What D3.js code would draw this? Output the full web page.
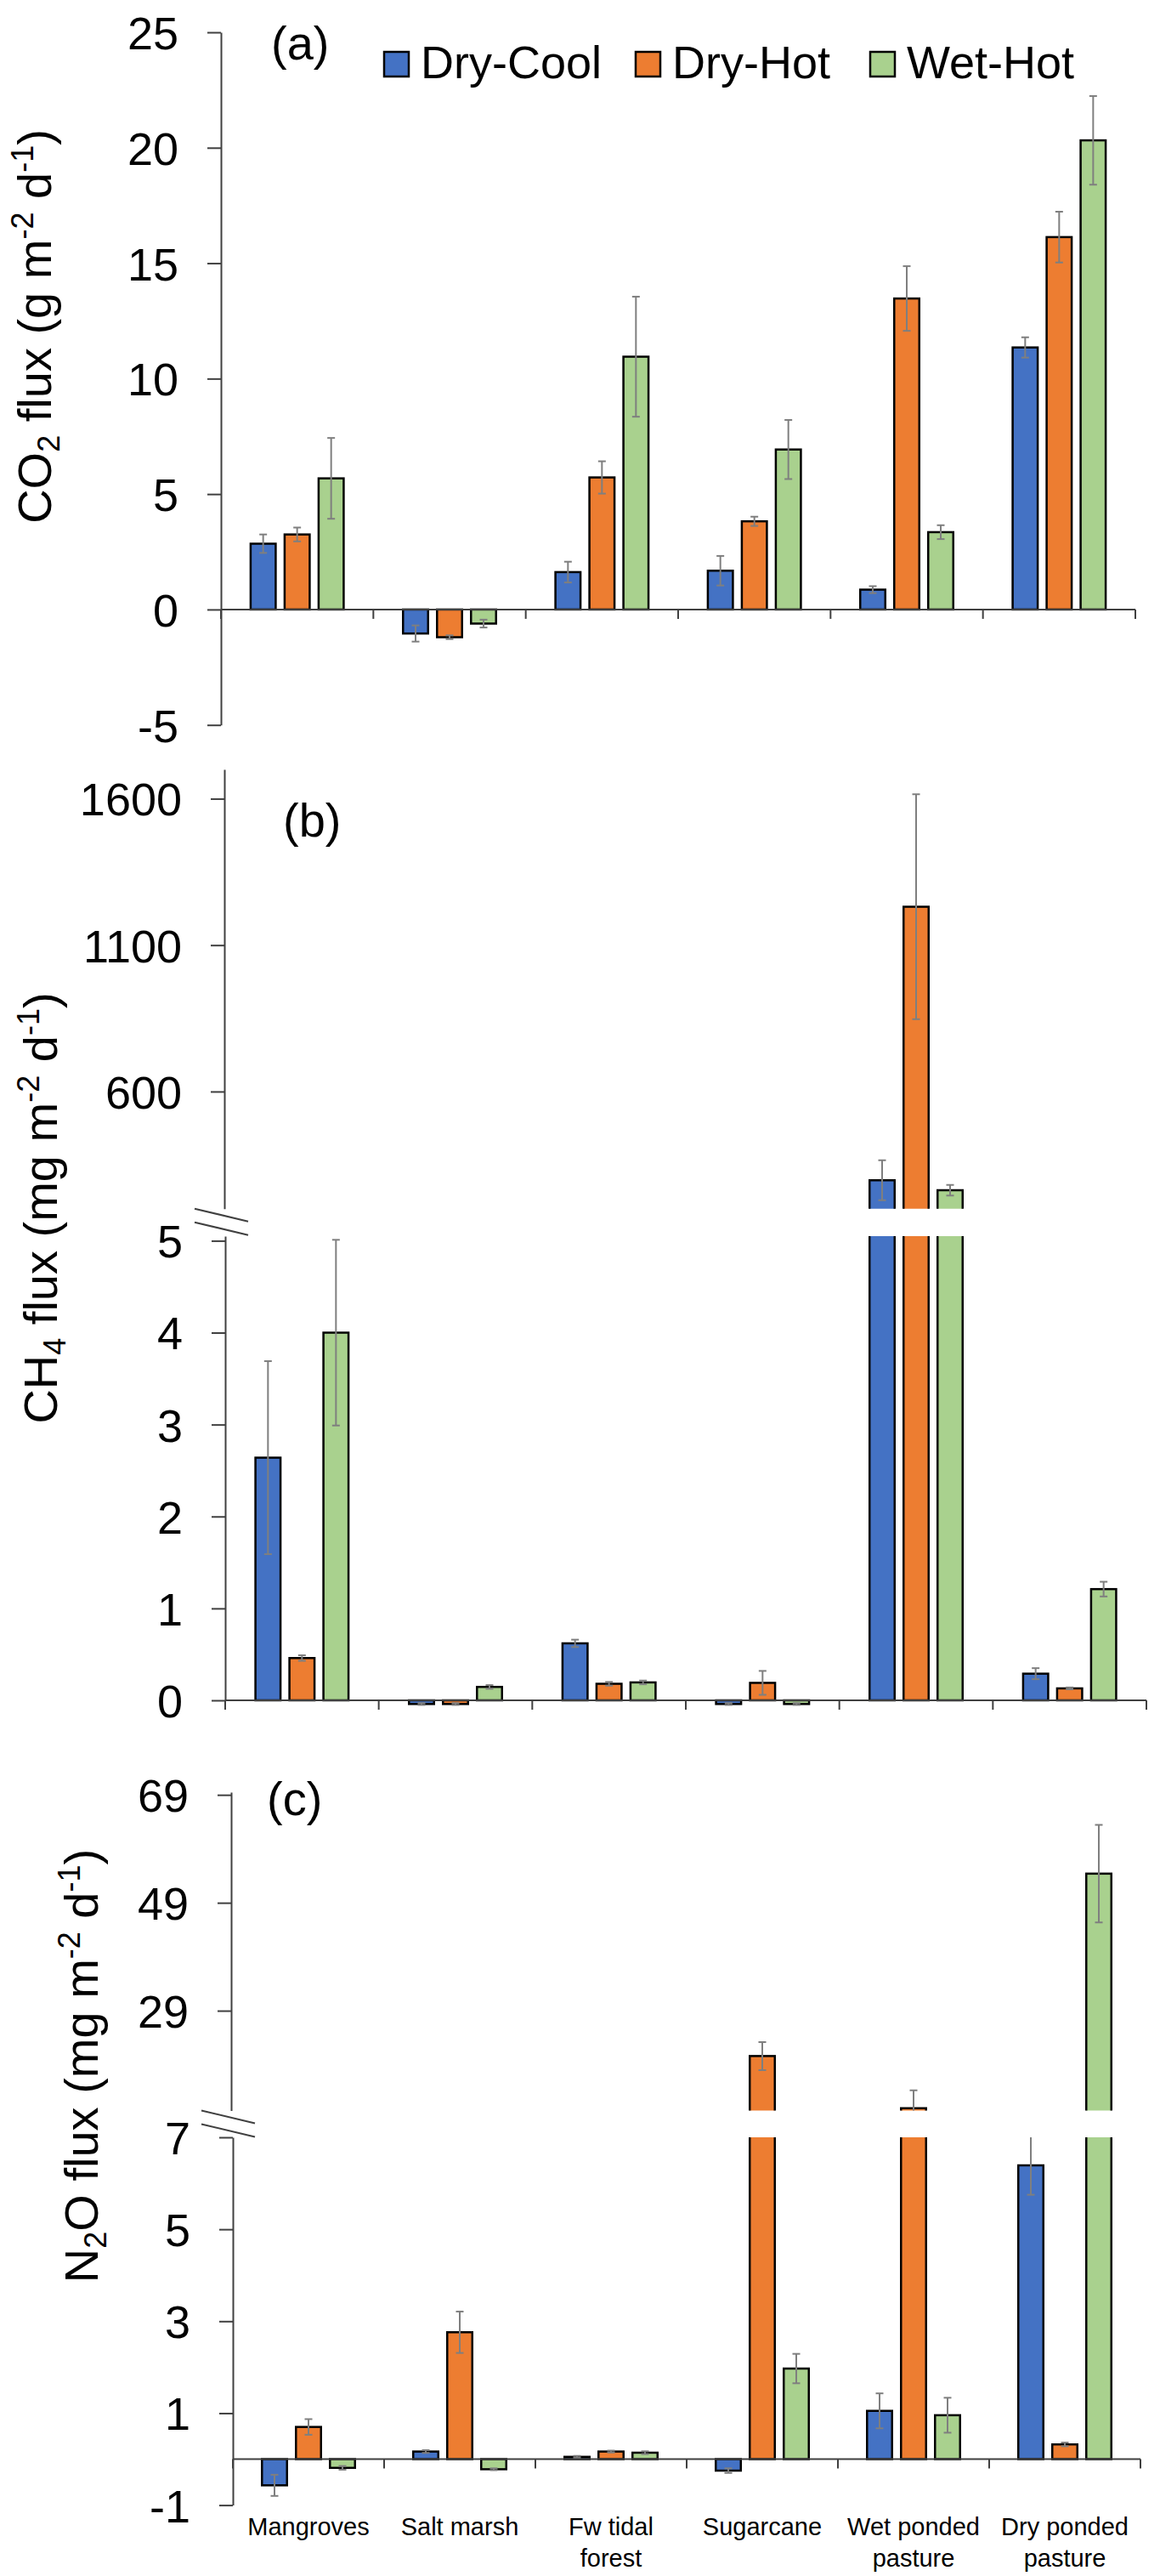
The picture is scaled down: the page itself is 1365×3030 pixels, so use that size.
<!DOCTYPE html>
<html>
<head>
<meta charset="utf-8">
<script src="https://cdn.jsdelivr.net/npm/d3@7"></script>
<style>
  body { margin: 0; background: #fff; }
  text { font-family: "Liberation Sans", Arial, sans-serif; fill: #000; }
</style>
</head>
<body>
<svg id="chart" width="1365" height="3030"></svg>
<script>
// categories, line breaks as in the original axis labels
const categories = ["Mangroves", "Salt marsh", "Fw tidal\nforest", "Sugarcane", "Wet ponded\npasture", "Dry ponded\npasture"];
const seriesNames = ["Dry-Cool", "Dry-Hot", "Wet-Hot"];
const seriesColors = ["#4472C4", "#ED7D31", "#A9D18E"];

// (a) CO2 flux, g m-2 d-1
const co2DryCool = [2.85, -1.04, 1.62, 1.68, 0.86, 11.35];
const co2DryHot  = [3.25, -1.2, 5.72, 3.82, 13.47, 16.13];
const co2WetHot  = [5.68, -0.61, 10.95, 6.93, 3.35, 20.32];
const co2ErrDryCool = [0.4, 0.35, 0.45, 0.64, 0.15, 0.44];
const co2ErrDryHot  = [0.3, 0.08, 0.7, 0.2, 1.4, 1.1];
const co2ErrWetHot  = [1.75, 0.17, 2.6, 1.28, 0.3, 1.92];

// (b) CH4 flux, mg m-2 d-1
const ch4DryCool = [2.64, -0.04, 0.62, -0.04, 297, 0.29];
const ch4DryHot  = [0.46, -0.04, 0.18, 0.19, 1231, 0.13];
const ch4WetHot  = [4.0, 0.146, 0.195, -0.04, 263, 1.21];
const ch4ErrDryCool = [1.05, 0.01, 0.04, 0.01, 68, 0.06];
const ch4ErrDryHot  = [0.03, 0.01, 0.02, 0.13, 384, 0.01];
const ch4ErrWetHot  = [1.01, 0.02, 0.02, 0.01, 18, 0.08];

// (c) N2O flux, mg m-2 d-1
const n2oDryCool = [-0.57, 0.165, 0.05, -0.25, 1.05, 6.39];
const n2oDryHot  = [0.7, 2.76, 0.165, 20.6, 10.93, 0.32];
const n2oWetHot  = [-0.19, -0.22, 0.14, 1.97, 0.955, 54.4];
const n2oErrDryCool = [0.23, 0.03, 0.02, 0.05, 0.38, 0.64];
const n2oErrDryHot  = [0.17, 0.45, 0.02, 2.6, 3.3, 0.04];
const n2oErrWetHot  = [0.04, 0.02, 0.03, 0.32, 0.38, 9.05];

// tick labels
const co2Ticks = [-5, 0, 5, 10, 15, 20, 25];
const ch4UpperTicks = [600, 1100, 1600];
const ch4LowerTicks = [0, 1, 2, 3, 4, 5];
const n2oUpperTicks = [29, 49, 69];
const n2oLowerTicks = [-1, 1, 3, 5, 7];

const AXIS = '#404040';
const svg = d3.select('#chart');
svg.append('rect').attr('width', 1365).attr('height', 3030).attr('fill', '#fff');
const defs = svg.append('defs');

// bars inside a category: 32px wide on a 40px step
const x1 = d3.scaleBand().domain(seriesNames).range([-56, 56]).paddingInner(0.2);

function makeX(range) {
    return d3.scaleBand().domain(categories).range(range).padding(0);
}

function addClip(id, x0, top, bottom) {
    defs.append('clipPath').attr('id', id)
        .append('rect')
        .attr('x', x0.range()[0] + 1)
        .attr('y', top)
        .attr('width', x0.range()[1] - x0.range()[0])
        .attr('height', bottom - top);
}

// bars + error bars for one (sub)chart
function drawBars(x0, y, values, errors, clipId) {
    var layer = svg.append('g');
    if (clipId) layer.attr('clip-path', 'url(#' + clipId + ')');

    seriesNames.forEach(function (s, si) {
        var rows = categories.map(function (c, ci) {
            return {c: c, v: values[si][ci], e: errors[si][ci]};
        });
        var cx = function (d) { return x0(d.c) + x0.bandwidth() / 2 + x1(s); };

        layer.append('g').selectAll('rect')
            .data(rows)
            .enter()
            .append('rect')
            .attr('x', function (d) { return cx(d) + 1.25; })
            .attr('width', x1.bandwidth() - 2.5)
            .attr('y', function (d) { return Math.min(y(0), y(d.v)); })
            .attr('height', function (d) { return Math.abs(y(0) - y(d.v)); })
            .attr('fill', seriesColors[si])
            .attr('stroke', '#000')
            .attr('stroke-width', 2.5);
    });

    seriesNames.forEach(function (s, si) {
        var rows = categories.map(function (c, ci) {
            return {c: c, v: values[si][ci], e: errors[si][ci]};
        });
        var mid = function (d) { return x0(d.c) + x0.bandwidth() / 2 + x1(s) + x1.bandwidth() / 2; };
        var eg = layer.append('g').selectAll('g')
            .data(rows)
            .enter()
            .append('g')
            .attr('stroke', '#7F7F7F')
            .attr('stroke-width', 2);
        eg.append('line')
            .attr('x1', mid).attr('x2', mid)
            .attr('y1', function (d) { return y(d.v - d.e); })
            .attr('y2', function (d) { return y(d.v + d.e); });
        [-1, 1].forEach(function (sgn) {
            eg.append('line')
                .attr('x1', function (d) { return mid(d) - 4.5; })
                .attr('x2', function (d) { return mid(d) + 4.5; })
                .attr('y1', function (d) { return y(d.v + sgn * d.e); })
                .attr('y2', function (d) { return y(d.v + sgn * d.e); });
        });
    });
}

function yAxis(y, ticks, xPos) {
    var ax = svg.append('g')
        .attr('transform', 'translate(' + xPos + ',0)')
        .call(d3.axisLeft(y).tickValues(ticks).tickSize(16).tickSizeOuter(0)
            .tickPadding(34).tickFormat(function (d) { return String(d); }));
    ax.attr('font-family', null).attr('font-size', null);
    ax.select('.domain').attr('stroke', AXIS).attr('stroke-width', 2);
    ax.selectAll('.tick line').attr('stroke', AXIS).attr('stroke-width', 2);
    ax.selectAll('.tick text').attr('font-size', 54).attr('fill', '#000').attr('dy', '0.36em');
}

// horizontal axis at zero with ticks on category boundaries
function xAxis(x0, y) {
    var y0 = y(0);
    var g = svg.append('g').attr('stroke', AXIS).attr('stroke-width', 2);
    g.append('line')
        .attr('x1', x0.range()[0]).attr('x2', x0.range()[1])
        .attr('y1', y0).attr('y2', y0);
    var bounds = categories.map(function (c) { return x0(c); }).concat([x0.range()[1]]);
    g.selectAll('.bt')
        .data(bounds)
        .enter()
        .append('line')
        .attr('x1', function (d) { return d; }).attr('x2', function (d) { return d; })
        .attr('y1', y0).attr('y2', y0 + 11);
}

function breakMark(xPos, yTop) {
    var g = svg.append('g').attr('stroke', AXIS).attr('stroke-width', 2);
    [0, 16].forEach(function (off) {
        g.append('line')
            .attr('x1', xPos - 36).attr('y1', yTop + off)
            .attr('x2', xPos + 27).attr('y2', yTop + off + 15);
    });
}

// rotated axis title; parts: [text, shift] with -1 sub, 1 super
function yTitle(x, yc, parts) {
    var t = svg.append('text')
        .attr('transform', 'translate(' + x + ',' + yc + ') rotate(-90)')
        .attr('text-anchor', 'middle')
        .attr('font-size', 56);
    var cur = 0;
    parts.forEach(function (p) {
        var target = p[1] === -1 ? 10 : (p[1] === 1 ? -21 : 0);
        t.append('tspan')
            .attr('dy', target - cur)
            .attr('font-size', p[1] === 0 ? 56 : 36)
            .text(p[0]);
        cur = target;
    });
}

function panelLabel(text, x, y) {
    svg.append('text').attr('x', x).attr('y', y).attr('font-size', 56).text(text);
}

// ---------- (a) CO2 ----------
var xa = makeX([260, 1336]);
var ya = d3.scaleLinear().domain([-5, 25]).range([852.7, 38]);
drawBars(xa, ya, [co2DryCool, co2DryHot, co2WetHot], [co2ErrDryCool, co2ErrDryHot, co2ErrWetHot], null);
xAxis(xa, ya);
yAxis(ya, co2Ticks, xa.range()[0]);
yTitle(60, 384, [['CO', 0], ['2', -1], [' flux (g m', 0], ['-2', 1], [' d', 0], ['-1', 1], [')', 0]]);
panelLabel('(a)', 319, 70);

// legend
var legend = svg.append('g').selectAll('g')
    .data(seriesNames)
    .enter()
    .append('g')
    .attr('transform', function (d, i) { return 'translate(' + [452, 748, 1024][i] + ',61)'; });
legend.append('rect')
    .attr('width', 29).attr('height', 29)
    .attr('fill', function (d, i) { return seriesColors[i]; })
    .attr('stroke', '#000').attr('stroke-width', 2.5);
legend.append('text')
    .attr('x', 43).attr('y', 31)
    .attr('font-size', 54)
    .text(function (d) { return d; });

// ---------- (b) CH4 ----------
var xb = makeX([265, 1349]);
var ybU = d3.scaleLinear().domain([200, 1700]).range([1421.7, 905]);
var ybL = d3.scaleLinear().domain([0, 5.05]).range([2000, 1454]);
addClip('clipBU', xb, 850, 1421.7);
addClip('clipBL', xb, 1454, 2100);
var ch4Vals = [ch4DryCool, ch4DryHot, ch4WetHot];
var ch4Errs = [ch4ErrDryCool, ch4ErrDryHot, ch4ErrWetHot];
drawBars(xb, ybU, ch4Vals, ch4Errs, 'clipBU');
drawBars(xb, ybL, ch4Vals, ch4Errs, 'clipBL');
xAxis(xb, ybL);
yAxis(ybU, ch4UpperTicks, xb.range()[0] - 1);
yAxis(ybL, ch4LowerTicks, xb.range()[0]);
breakMark(xb.range()[0], ybU.range()[0]);
yTitle(67, 1421, [['CH', 0], ['4', -1], [' flux (mg m', 0], ['-2', 1], [' d', 0], ['-1', 1], [')', 0]]);
panelLabel('(b)', 333, 984);

// ---------- (c) N2O ----------
var xc = makeX([274, 1342]);
var ycU = d3.scaleLinear().domain([10.5, 69.5]).range([2482.5, 2108]);
var ycL = d3.scaleLinear().domain([-1, 7]).range([2946.6, 2514]);
addClip('clipCU', xc, 2050, 2482.5);
addClip('clipCL', xc, 2514, 2990);
var n2oVals = [n2oDryCool, n2oDryHot, n2oWetHot];
var n2oErrs = [n2oErrDryCool, n2oErrDryHot, n2oErrWetHot];
drawBars(xc, ycU, n2oVals, n2oErrs, 'clipCU');
drawBars(xc, ycL, n2oVals, n2oErrs, 'clipCL');
xAxis(xc, ycL);
yAxis(ycU, n2oUpperTicks, xc.range()[0] - 2);
yAxis(ycL, n2oLowerTicks, xc.range()[0]);
breakMark(xc.range()[0] - 1, ycU.range()[0]);
yTitle(115, 2430, [['N', 0], ['2', -1], ['O flux (mg m', 0], ['-2', 1], [' d', 0], ['-1', 1], [')', 0]]);
panelLabel('(c)', 314, 2135);

// category labels under (c)
svg.append('g').selectAll('text')
    .data(categories)
    .enter()
    .append('text')
    .attr('text-anchor', 'middle')
    .attr('font-size', 29)
    .each(function (d) {
        var cx = xc(d) + xc.bandwidth() / 2;
        d3.select(this).selectAll('tspan')
            .data(d.split('\n'))
            .enter()
            .append('tspan')
            .attr('x', cx)
            .attr('y', function (line, i) { return 2982 + i * 37; })
            .text(function (line) { return line; });
    });
</script>
</body>
</html>
